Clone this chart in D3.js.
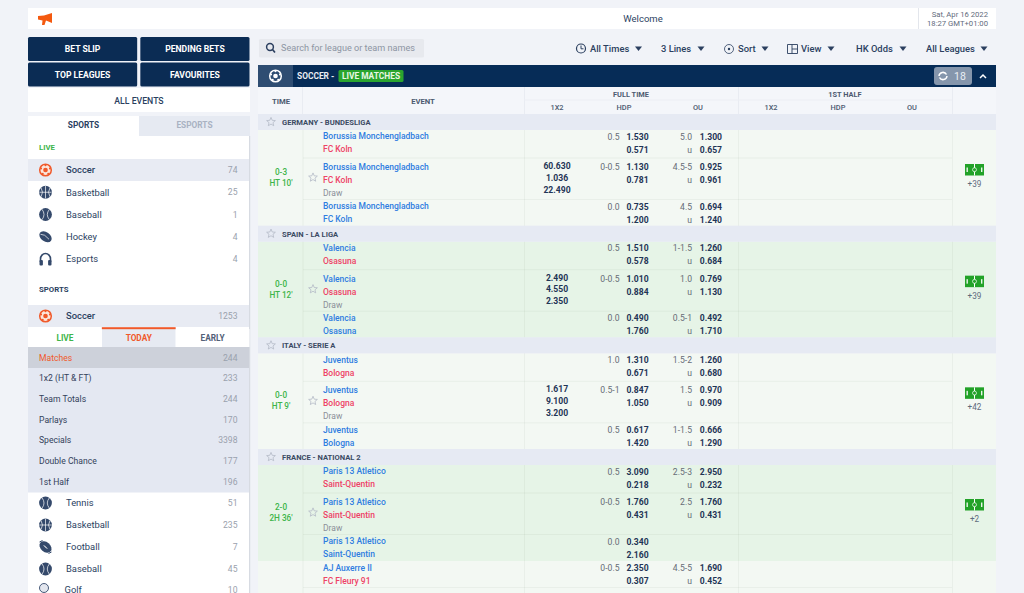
<!DOCTYPE html>
<html>
<head>
<meta charset="utf-8">
<style>
  html, body { margin: 0; padding: 0; background: #f1f3f8; overflow: hidden; }
  svg { display: block; font-family: Roboto, sans-serif; }
</style>
</head>
<body>
<div id="chart-container"></div>
<script src="https://cdnjs.cloudflare.com/ajax/libs/d3/7.8.5/d3.min.js"></script>
<script>
// sidebar lists
const topButtons = ["BET SLIP", "PENDING BETS", "TOP LEAGUES", "FAVOURITES"];
const liveSports = ["Soccer", "Basketball", "Baseball", "Hockey", "Esports"];
const liveCounts = [74, 25, 1, 4, 4];
const marketTabs = ["LIVE", "TODAY", "EARLY"];
const marketNames = ["Matches", "1x2 (HT & FT)", "Team Totals", "Parlays", "Specials", "Double Chance", "1st Half"];
const marketCounts = [244, 233, 244, 170, 3398, 177, 196];
const otherSports = ["Tennis", "Basketball", "Football", "Baseball", "Golf"];
const otherCounts = [51, 235, 7, 45, 10];

// toolbar
const toolLabels = ["All Times", "3 Lines", "Sort", "View", "HK Odds", "All Leagues"];

// table
const columnNames = ["1X2", "HDP", "OU", "1X2 ", "HDP ", "OU "];
const leagues = ["GERMANY - BUNDESLIGA", "SPAIN - LA LIGA", "ITALY - SERIE A", "FRANCE - NATIONAL 2"];
const scores = ["0-3", "0-0", "0-0", "2-0"];
const clocks = ["HT 10'", "HT 12'", "HT 9'", "2H 36'"];
const homeTeams = ["Borussia Monchengladbach", "Valencia", "Juventus", "Paris 13 Atletico"];
const awayTeams = ["FC Koln", "Osasuna", "Bologna", "Saint-Quentin"];
const moreBets = ["+39", "+39", "+42", "+2"];
const odds1x2 = [
  ["60.630", "1.036", "22.490"],
  ["2.490", "4.550", "2.350"],
  ["1.617", "9.100", "3.200"],
  ["", "", ""],
];
// seven text lines per match: home, away, home, away, draw, home, away
const hdpLines = [
  ["0.5", "", "0-0.5", "", "", "0.0", ""],
  ["0.5", "", "0-0.5", "", "", "0.0", ""],
  ["1.0", "", "0.5-1", "", "", "0.5", ""],
  ["0.5", "", "0-0.5", "", "", "0.0", ""],
];
const hdpOdds = [
  ["1.530", "0.571", "1.130", "0.781", "", "0.735", "1.200"],
  ["1.510", "0.578", "1.010", "0.884", "", "0.490", "1.760"],
  ["1.310", "0.671", "0.847", "1.050", "", "0.617", "1.420"],
  ["3.090", "0.218", "1.760", "0.431", "", "0.340", "2.160"],
];
const ouLines = [
  ["5.0", "u", "4.5-5", "u", "", "4.5", "u"],
  ["1-1.5", "u", "1.0", "u", "", "0.5-1", "u"],
  ["1.5-2", "u", "1.5", "u", "", "1-1.5", "u"],
  ["2.5-3", "u", "2.5", "u", "", "", ""],
];
const ouOdds = [
  ["1.300", "0.657", "0.925", "0.961", "", "0.694", "1.240"],
  ["1.260", "0.684", "0.769", "1.130", "", "0.492", "1.710"],
  ["1.260", "0.680", "0.970", "0.909", "", "0.666", "1.290"],
  ["2.950", "0.232", "1.760", "0.431", "", "", ""],
];
// match cut off by the bottom of the window
const lastMatch = ["AJ Auxerre II", "FC Fleury 91"];
const lastHdpLines = ["0-0.5", ""];
const lastHdpOdds = ["2.350", "0.307"];
const lastOuLines = ["4.5-5", "u"];
const lastOuOdds = ["1.690", "0.452"];

const navy = "#062c57";
const ink = "#2b3f5f";
const iconInk = "#34496b";
const orange = "#f0592a";
const green = "#3db54a";
const blueTeam = "#2f7de1";
const redTeam = "#ee4266";
const oddsInk = "#1f3556";
const lineInk = "#666c76";
const cellLine = "rgba(110,140,110,0.08)";

let svg = d3
  .select("#chart-container")
  .append("svg")
  .attr("width", 1024)
  .attr("height", 593);

function box(x, y, w, h, fill, r) {
  return svg.append("rect").attr("x", x).attr("y", y).attr("width", w).attr("height", h)
    .attr("fill", fill).attr("rx", r || 0);
}

function label(x, y, str, size, fill, weight, anchor) {
  return svg.append("text").attr("x", x).attr("y", y).attr("dy", "0.35em")
    .attr("font-size", size).attr("fill", fill).attr("font-weight", weight || 400)
    .attr("text-anchor", anchor || "start").text(str);
}

function hline(x1, x2, y, color) {
  svg.append("line").attr("x1", x1).attr("x2", x2).attr("y1", y).attr("y2", y).attr("stroke", color);
}

function vline(x, y1, y2, color) {
  svg.append("line").attr("x1", x).attr("x2", x).attr("y1", y1).attr("y2", y2).attr("stroke", color);
}

// sidebar sport icons, the seams are only hinted at
function sportIcon(name, cy) {
  let g = svg.append("g").attr("transform", "translate(45.5," + cy + ")");
  let seam = (d) => g.append("path").attr("d", d).attr("fill", "none")
    .attr("stroke", "#fff").attr("stroke-width", 0.7);
  if (name === "Esports") {
    g.append("path").attr("d", "M-5,3V0A5,5.5 0 0 1 5,0V3").attr("fill", "none")
      .attr("stroke", iconInk).attr("stroke-width", 1.6);
    g.append("rect").attr("x", -6).attr("y", 1).attr("width", 3.4).attr("height", 5.5).attr("rx", 1).attr("fill", iconInk);
    g.append("rect").attr("x", 2.6).attr("y", 1).attr("width", 3.4).attr("height", 5.5).attr("rx", 1).attr("fill", iconInk);
  } else if (name === "Hockey") {
    g.append("ellipse").attr("rx", 6.8).attr("ry", 4.6).attr("transform", "rotate(35)").attr("fill", iconInk);
    seam("M-5,-2.5Q-1,-3 3.5,2.5");
  } else if (name === "Football") {
    g.append("ellipse").attr("rx", 6.8).attr("ry", 4.8).attr("transform", "rotate(40)").attr("fill", iconInk);
    seam("M-2,-2L2,2M-1,0L0,-1M0,1L1,0");
    g.append("path").attr("d", "M-6,-5L-3,-6.5").attr("stroke", iconInk).attr("stroke-width", 1);
    g.append("path").attr("d", "M6,5L3,6.5").attr("stroke", iconInk).attr("stroke-width", 1);
  } else if (name === "Basketball") {
    g.append("circle").attr("r", 6.4).attr("fill", iconInk);
    seam("M-6.2,0H6.2M0,-6.2V6.2M-4.5,-4.5Q-1.5,0 -4.5,4.5M4.5,-4.5Q1.5,0 4.5,4.5");
  } else {
    g.append("circle").attr("r", 6.4).attr("fill", iconInk);
    seam("M-3.5,-5.2Q0.5,0 -3.5,5.2M3.8,-5Q-0.2,0 3.8,5");
  }
}

function soccerBall(cx, cy, r, color, inner) {
  let g = svg.append("g").attr("transform", "translate(" + cx + "," + cy + ")");
  g.append("circle").attr("r", r - 0.7).attr("fill", inner).attr("stroke", color).attr("stroke-width", 1.5);
  g.append("circle").attr("r", r * 0.36).attr("fill", color);
  d3.range(5).forEach((i) => {
    let a = (i * 72 - 90) * Math.PI / 180;
    g.append("circle").attr("cx", Math.cos(a) * r * 0.72).attr("cy", Math.sin(a) * r * 0.72)
      .attr("r", r * 0.16).attr("fill", color);
  });
}

function star(cx, cy, r, color) {
  let pts = d3.range(10).map((i) => {
    let a = (i * 36 - 90) * Math.PI / 180;
    let rr = i % 2 ? r * 0.45 : r;
    return [cx + Math.cos(a) * rr, cy + Math.sin(a) * rr];
  });
  svg.append("path").attr("d", d3.line()(pts) + "Z").attr("fill", "none")
    .attr("stroke", color).attr("stroke-width", 0.8);
}

function caret(cx, cy, color) {
  svg.append("path").attr("transform", "translate(" + cx + "," + cy + ")")
    .attr("d", "M-3.5,-2L3.5,-2L0,2.5Z").attr("fill", color);
}

// ---- top bar
box(28, 8, 968, 21, "#fff");
svg.append("path").attr("fill", "#f4590f")
  .attr("d", "M38,16L44,15.5L52,13L52,23L46,20.5L44.5,25L42,25L42.5,20.5L38,19.5Z");
label(643, 18.5, "Welcome", 9.5, ink, 400, "middle");
vline(918.5, 8, 29, "#e3e6ec");
label(988, 14, "Sat, Apr 16 2022", 7.7, "#5f6b7d", 400, "end");
label(988, 23, "18:27 GMT+01:00", 7.7, "#5f6b7d", 400, "end");

// ---- sidebar buttons
let buttonX = d3.scaleBand().domain([0, 1]).range([28, 249.5]).paddingInner(0.028);
let buttonY = d3.scaleBand().domain([0, 1]).range([37, 86.5]).paddingInner(0.06);
topButtons.forEach((name, i) => {
  let col = i % 2, row = (i - col) / 2;
  box(buttonX(col), buttonY(row), buttonX.bandwidth(), buttonY.bandwidth(), "#0b2c54", 1.5);
  label(buttonX(col) + buttonX.bandwidth() / 2, buttonY(row) + buttonY.bandwidth() / 2, name, 8.6, "#fff", 700, "middle");
});

box(28, 88, 222, 24, "#fff");
label(139, 100.5, "ALL EVENTS", 8.7, ink, 500, "middle");

// ---- sidebar tabs and panel
box(28, 116, 111, 20, "#fff");
box(139, 116, 111, 20, "#e6eaf2");
label(83.5, 125.5, "SPORTS", 8.3, ink, 700, "middle");
label(194.5, 125.5, "ESPORTS", 8.3, "#a9b2c2", 700, "middle");
box(28, 136, 221, 457, "#fff");
box(249, 136, 1.2, 457, "#d7dbe2");

label(39, 147.5, "LIVE", 7.8, green, 700);

let liveY = d3.scalePoint().domain(liveSports).range([170, 259]);
box(28, 159, 221, 22, "#e8ebf3");
liveSports.forEach((name, i) => {
  let y = liveY(name);
  if (i === 0) soccerBall(45.5, y, 6.5, orange, "#fbe6dc");
  else sportIcon(name, y);
  label(66, y, name, 9.4, ink, i === 0 ? 500 : 400);
  label(237.5, y, liveCounts[i], 8.6, "#9aa1ad", 400, "end");
});

label(39, 289.5, "SPORTS", 7.8, ink, 700);

box(28, 305, 221, 22, "#e8ebf3");
soccerBall(45.5, 316, 6.5, orange, "#fbe6dc");
label(66, 316, "Soccer", 9.4, ink, 500);
label(237.5, 316, 1253, 8.6, "#9aa1ad", 400, "end");

let tabX = d3.scaleBand().domain(marketTabs).range([28, 249.5]);
box(tabX("TODAY"), 329, tabX.bandwidth(), 18, "#e6eaf2");
box(tabX("LIVE"), 329, tabX.bandwidth(), 18, "#fff");
box(tabX("EARLY"), 329, tabX.bandwidth(), 18, "#fff");
box(tabX("TODAY"), 327.2, tabX.bandwidth(), 2, orange);
marketTabs.forEach((name, i) => {
  label(tabX(name) + tabX.bandwidth() / 2, 338, name, 8.3, [green, orange, "#516178"][i], 700, "middle");
});

box(28, 347, 221, 145.5, "#e4e8f2");
box(28, 347, 221, 21, "#cdd1da");
let marketY = d3.scalePoint().domain(marketNames).range([357.5, 481.5]);
marketNames.forEach((name, i) => {
  label(39, marketY(name), name, 8.6, i === 0 ? orange : "#33415a", 400);
  label(237.5, marketY(name), marketCounts[i], 8.6, "#9aa1ad", 400, "end");
});

let otherY = d3.scalePoint().domain(d3.range(otherSports.length)).range([503, 591]);
otherSports.forEach((name, i) => {
  let y = otherY(i);
  if (name === "Golf") {
    svg.append("circle").attr("cx", 44).attr("cy", y - 3).attr("r", 4.5)
      .attr("fill", "#e3e6ee").attr("stroke", iconInk).attr("stroke-width", 0.9);
    y = 589.5;
  } else sportIcon(name, y);
  label(name === "Golf" ? 64.5 : 66, y, name, 9.4, ink);
  label(237.5, y, otherCounts[i], 8.6, "#9aa1ad", 400, "end");
});

// ---- search and toolbar
box(259, 39, 165, 18.5, "#e7e9ee", 1.5);
svg.append("circle").attr("cx", 270).attr("cy", 47).attr("r", 3.4)
  .attr("fill", "none").attr("stroke", ink).attr("stroke-width", 1.5);
svg.append("line").attr("x1", 272.5).attr("y1", 49.5).attr("x2", 275).attr("y2", 52.5)
  .attr("stroke", ink).attr("stroke-width", 1.7);
label(281, 48, "Search for league or team names", 9.1, "#8d95a3");

let toolX = d3.scaleOrdinal().domain(toolLabels).range([590, 661, 738, 801, 856, 926]);
let caretX = d3.scaleOrdinal().domain(toolLabels).range([638.5, 701, 765, 831, 903, 984]);
toolLabels.forEach((name) => {
  label(toolX(name), 48.5, name, 9.4, ink, 500);
  caret(caretX(name), 48.5, ink);
});
// toolbar icons
svg.append("circle").attr("cx", 581).attr("cy", 48.5).attr("r", 4.5).attr("fill", "none").attr("stroke", ink).attr("stroke-width", 1.2);
svg.append("path").attr("d", "M581,45.5V48.8H583.5").attr("fill", "none").attr("stroke", ink);
svg.append("circle").attr("cx", 729).attr("cy", 49).attr("r", 4.5).attr("fill", "none").attr("stroke", ink).attr("stroke-width", 0.8);
svg.append("circle").attr("cx", 729).attr("cy", 49).attr("r", 1.2).attr("fill", ink);
svg.append("path").attr("d", "M787.5,44.5H797.5V53.5H787.5ZM792,44.5V53.5M792,49H797.5").attr("fill", "none").attr("stroke", ink).attr("stroke-width", 0.9);

// ---- table title bar
box(258, 65, 738, 22, navy);
box(258, 65, 35, 22, "#2e4d72");
soccerBall(275.5, 76, 6.5, "#fff", "#2e4d72");
label(297, 76, "SOCCER -", 8.4, "#e9edf3", 700);
box(338.5, 70, 65, 12, "#2aa52e", 1.5);
label(371, 76, "LIVE MATCHES", 8.4, "#e8f7e4", 700, "middle");
box(934, 67, 38, 18, "#8596ac", 3);
svg.append("path").attr("d", "M939,76A4,4 0 0 1 946.5,74.5M947,76A4,4 0 0 1 939.5,77.5")
  .attr("fill", "none").attr("stroke", "#fff").attr("stroke-width", 1.5);
label(960, 76, "18", 10.5, "#e8edf3", 400, "middle");
svg.append("path").attr("d", "M980,78L983,75L986,78").attr("fill", "none").attr("stroke", "#fff").attr("stroke-width", 1.5);

// ---- table header
box(258, 87, 738, 27, "#f4f6fa");
label(281, 101, "TIME", 7.7, "#4c5a70", 700, "middle");
label(423, 101, "EVENT", 7.7, "#4c5a70", 700, "middle");
label(631, 94, "FULL TIME", 7.4, "#4c5a70", 700, "middle");
label(845, 94, "1ST HALF", 7.4, "#4c5a70", 700, "middle");
let columnX = d3.scaleOrdinal().domain(columnNames).range([557, 624, 698, 771, 838, 912]);
columnNames.forEach((name) => label(columnX(name), 107.5, name.trim(), 7.4, "#4c5a70", 500, "middle"));
[302.5, 524.5, 738.5, 952.5].forEach((x) => vline(x, 87, 114, "#e9ecf2"));
hline(524, 952, 100, "#eceef4");

// ---- table body
let leagueTop = d3.scaleLinear().domain([0, leagues.length - 1]).range([114, 449]);
// text line inside a league block -> pixel offset
let lineOffset = d3.scaleOrdinal().domain(d3.range(7)).range([22.5, 35.5, 53, 66, 79, 92.5, 105.5]);
let oddsOffset = d3.scaleOrdinal().domain(d3.range(3)).range([52, 63.8, 75.8]);
let rowFill = ["#f3f8f3", "#e6f4e7", "#f3f8f3", "#e6f4e7"];

leagues.forEach((name, m) => {
  let top = leagueTop(m);
  let y = (i) => top + lineOffset(i);
  box(258, top + 16, 738, 96, rowFill[m]);
  box(258, top, 738, 16, "#e6eaf3");
  star(271, top + 8, 4.6, "#b4bac6");
  label(282, top + 8.3, name, 7.6, "#3b4b63", 700);

  // cell dividers
  [303, 524.5, 738.5, 952.5].forEach((x) => vline(x, top + 16, top + 112, cellLine));
  hline(303, 952, top + 44, cellLine);
  hline(303, 952, top + 85.5, cellLine);

  label(281, top + 58, scores[m], 8.2, green, 500, "middle");
  label(281, top + 69, clocks[m], 8.2, green, 500, "middle");
  star(313, top + 63.5, 4.6, "#b4bac6");

  [homeTeams[m], awayTeams[m], homeTeams[m], awayTeams[m], "Draw", homeTeams[m], awayTeams[m]].forEach((team, i) => {
    let color = i === 4 ? "#8a8f98" : i === 1 || i === 3 ? redTeam : blueTeam;
    label(323, y(i), team, 8.5, color, i === 4 ? 400 : 500);
  });

  odds1x2[m].forEach((v, i) => label(557, top + oddsOffset(i), v, 8.6, oddsInk, 700, "middle"));

  d3.range(7).forEach((i) => {
    label(619.5, y(i), hdpLines[m][i], 8.6, lineInk, 400, "end");
    label(648.6, y(i), hdpOdds[m][i], 8.6, oddsInk, 700, "end");
    label(692, y(i), ouLines[m][i], 8.6, lineInk, 400, "end");
    label(722, y(i), ouOdds[m][i], 8.6, oddsInk, 700, "end");
  });

  // little pitch icon and more bets count
  box(965, top + 50, 19, 11.5, "#22a228");
  vline(974.5, top + 50, top + 61.5, "#fff");
  svg.append("circle").attr("cx", 974.5).attr("cy", top + 55.7).attr("r", 2).attr("fill", "#22a228").attr("stroke", "#fff").attr("stroke-width", 0.7);
  box(966.5, top + 53.5, 1.4, 4.5, "#e9f6e9");
  box(981, top + 53.5, 1.4, 4.5, "#e9f6e9");
  label(974.5, top + 70, moreBets[m], 8.2, "#5f6b7d", 400, "middle");
});

// last match, runs off the window
box(258, 561, 738, 32, "#f3f8f3");
[303, 524.5, 738.5, 952.5].forEach((x) => vline(x, 561, 593, cellLine));
hline(303, 952, 587.5, cellLine);
let lastY = d3.scalePoint().domain(lastMatch).range([568, 581]);
lastMatch.forEach((team, i) => {
  let y = lastY(team);
  label(323, y, team, 8.5, i === 0 ? blueTeam : redTeam, 500);
  label(619.5, y, lastHdpLines[i], 8.6, lineInk, 400, "end");
  label(648.6, y, lastHdpOdds[i], 8.6, oddsInk, 700, "end");
  label(692, y, lastOuLines[i], 8.6, lineInk, 400, "end");
  label(722, y, lastOuOdds[i], 8.6, oddsInk, 700, "end");
});
</script>
</body>
</html>
